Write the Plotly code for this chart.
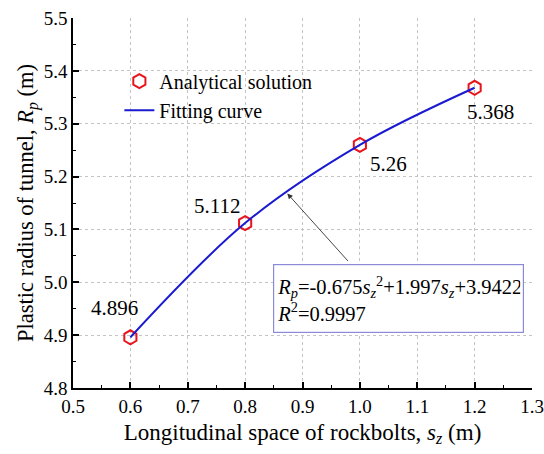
import plotly.graph_objects as go

# Plastic radius vs. longitudinal rockbolt spacing
spacing = [0.6, 0.8, 1.0, 1.2]
radius = [4.896, 5.112, 5.26, 5.368]
value_labels = ["4.896", "5.112", "5.26", "5.368"]
# label offsets in px (x, y) relative to each point
label_shift = [(-16, 29), (-28, 17), (29, -19), (16, -24)]

FONT = "'Times New Roman', 'Liberation Serif', serif"

fig = go.Figure()

fig.add_trace(go.Scatter(
    x=spacing, y=radius, mode="markers", name="Analytical solution",
    marker=dict(symbol="hexagon-open", size=14, color="#e8141c",
                line=dict(width=2, color="#e8141c")),
))
fig.add_trace(go.Scatter(
    x=spacing, y=radius, mode="lines", name="Fitting curve",
    line=dict(color="#1a1ad0", width=2, shape="spline", smoothing=1.0),
))

for xv, yv, txt, (dx, dy) in zip(spacing, radius, value_labels, label_shift):
    fig.add_annotation(x=xv, y=yv, text=txt, showarrow=False,
                       xshift=dx, yshift=dy,
                       font=dict(family=FONT, size=21, color="black"))

# arrow from the equation box to the curve
fig.add_annotation(x=0.8735, y=5.168, ax=62, ay=69, text="",
                   showarrow=True, arrowhead=2, arrowsize=1.2,
                   arrowwidth=0.9, arrowcolor="#333333")

eq = ("<i>R</i><sub><i>p</i></sub>=-0.675<i>s</i><sub><i>z</i></sub><sup>2</sup>"
      "+1.997<i>s</i><sub><i>z</i></sub>+3.9422<br><i>R</i><sup>2</sup>=0.9997")
fig.add_annotation(xref="paper", yref="paper", x=0.4357, y=0.336,
                   xanchor="left", yanchor="top", text=eq, showarrow=False,
                   align="left", width=243, height=61, borderpad=3,
                   bordercolor="#8a8ad8", borderwidth=1.2, bgcolor="white",
                   font=dict(family=FONT, size=20.5, color="black"))

axis_common = dict(
    showline=True, linecolor="black", linewidth=1.5,
    ticks="inside", ticklen=6, tickwidth=1.5, tickcolor="black",
    showgrid=True, gridcolor="#c4c4c4", gridwidth=1, griddash="dot",
    zeroline=False, mirror=False, automargin=False,
    tickfont=dict(family=FONT, size=19, color="black"),
    minor=dict(ticks="inside", ticklen=3, tickwidth=1.2, tickcolor="black",
               showgrid=False),
)

fig.update_xaxes(range=[0.5, 1.3], dtick=0.1, tick0=0.5, tickformat=".1f",
                 minor_dtick=0.05,
                 title=dict(text="Longitudinal space of rockbolts, <i>s</i><sub><i>z</i></sub> (m)",
                            font=dict(family=FONT, size=23, color="black"),
                            standoff=8),
                 **axis_common)
fig.update_yaxes(range=[4.8, 5.5], dtick=0.1, tick0=4.8, tickformat=".1f",
                 minor_dtick=0.05,
                 title=dict(text="Plastic radius of tunnel, <i>R</i><sub><i>p</i></sub> (m)",
                            font=dict(family=FONT, size=22.5, color="black"),
                            standoff=4),
                 **axis_common)

fig.update_layout(
    width=544, height=454,
    margin=dict(l=73, r=12, t=18, b=66),
    font=dict(family=FONT, color="black"),
    plot_bgcolor="white", paper_bgcolor="white",
    showlegend=True,
    legend=dict(x=0.101, y=0.882, xanchor="left", yanchor="top",
                bgcolor="rgba(0,0,0,0)", borderwidth=0,
                font=dict(family=FONT, size=20, color="black"),
                tracegroupgap=0),
)

fig.write_html("out.html")
